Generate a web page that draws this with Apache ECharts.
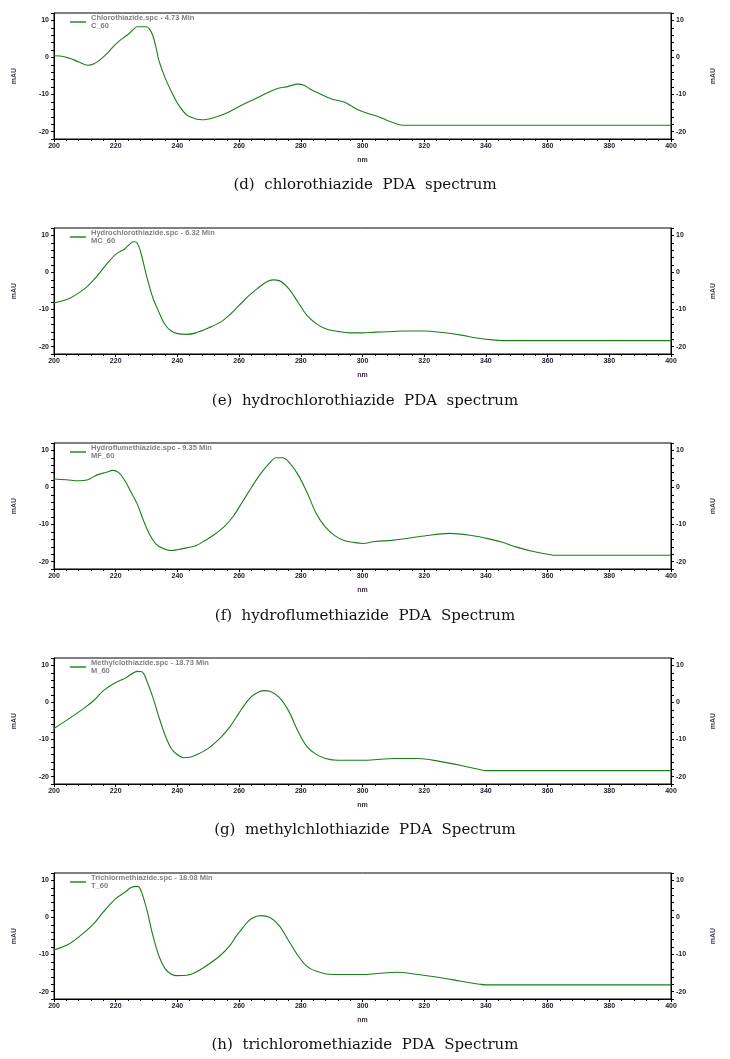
<!DOCTYPE html>
<html>
<head>
<meta charset="utf-8">
<script src="https://cdn.jsdelivr.net/npm/echarts@6/dist/echarts.min.js"></script>
<style>
html,body{margin:0;padding:0;background:#fff;}
#chart{width:730px;height:1059px;}
</style>
</head>
<body>
<div id="chart"></div>
<script>
// ---------- data (wavelength in nm, absorbance in mAU) ----------
const xTicks = [200, 220, 240, 260, 280, 300, 320, 340, 360, 380, 400];
const yTickLabels = [-20, -10, 0, 10];

const chlorothiazideNm  = [200,202,205,208,211,213,215,218,220,222,224,226,227,230,231,232,233,234,236,238,240,243,246,248,252,256,260,264,268,272,276,279,281,283,286,290,294,296,298,302,305,308,311,313,400];
const chlorothiazideMau = [0.45,0.4,-0.2,-1.2,-2.1,-1.7,-0.6,1.8,3.6,5.0,6.2,7.8,8.3,8.3,7.6,6.0,3.0,-0.8,-5.5,-9.1,-12.3,-15.5,-16.6,-16.8,-16.2,-15.0,-13.2,-11.6,-10.0,-8.5,-7.8,-7.2,-7.5,-8.5,-9.7,-11.2,-12.0,-12.9,-13.9,-15.2,-15.9,-17.0,-17.9,-18.3,-18.3];

const hydrochlorothiazideNm  = [200,205,208,211,214,217,220,223,225,226,227,228,230,232,234,236,238,240,243,246,250,254,257,260,263,266,269,271,273,276,279,282,285,288,292,296,300,304,308,313,320,326,332,337,342,346,400];
const hydrochlorothiazideMau = [-8.2,-7.0,-5.5,-3.6,-0.9,2.2,4.9,6.4,8.0,8.3,7.9,5.8,-0.9,-6.7,-10.7,-14.1,-15.8,-16.5,-16.7,-16.3,-15.0,-13.4,-11.4,-8.9,-6.4,-4.3,-2.5,-2.0,-2.2,-4.3,-7.9,-11.6,-13.8,-15.2,-15.9,-16.3,-16.3,-16.1,-16.0,-15.8,-15.8,-16.2,-16.9,-17.7,-18.2,-18.4,-18.4];

const hydroflumethiazideNm  = [200,204,208,211,214,217,219,221,223,225,227,229,231,233,235,238,240,243,246,249,252,255,258,261,264,267,270,272,274,276,279,282,285,288,291,294,297,300,304,310,320,328,335,340,345,350,355,360,363,400];
const hydroflumethiazideMau = [2.3,2.1,1.8,2.1,3.4,4.1,4.6,4.0,1.8,-1.3,-4.5,-8.9,-12.7,-15.2,-16.3,-17.0,-16.8,-16.3,-15.7,-14.3,-12.7,-10.7,-7.9,-4.0,0,3.75,6.7,8.0,8.0,7.0,3.6,-1.3,-7.0,-10.7,-13.0,-14.3,-14.8,-15.1,-14.6,-14.2,-13.1,-12.4,-12.9,-13.7,-14.7,-16.1,-17.2,-18.0,-18.3,-18.3];

const methylclothiazideNm  = [200,205,210,213,216,220,223,225,227,228.5,230,232,234,236,238,240,242,244,246,250,254,257,260,263,265,268,270,273,276,279,282,285,288,292,300,305,310,318,325,332,338,340,400];
const methylclothiazideMau = [-7.0,-4.3,-1.4,0.6,3.2,5.4,6.5,7.6,8.4,8.3,6.0,1.5,-3.9,-8.8,-12.4,-14.1,-14.9,-14.8,-14.2,-12.4,-9.5,-6.6,-2.8,0.7,2.2,3.2,3.0,1.4,-2.2,-7.6,-11.9,-14.0,-15.1,-15.6,-15.6,-15.4,-15.1,-15.1,-15.9,-17.0,-18.1,-18.4,-18.4];

const trichlormethiazideNm  = [200,205,210,213,216,220,223,225,227,228,230,232,234,236,238,240,243,246,250,254,257,259,261,263,265,267,270,273,276,279,282,285,290,300,305,311,318,325,332,338,340,400];
const trichlormethiazideMau = [-8.8,-7.1,-3.9,-1.6,1.5,5.1,6.8,8.1,8.4,7.7,2.4,-4.7,-10.4,-13.8,-15.3,-15.7,-15.6,-14.8,-12.7,-10.2,-7.6,-5.1,-3.0,-1.0,0.1,0.5,0,-2.2,-6.2,-10.2,-13.2,-14.5,-15.4,-15.4,-15.1,-14.8,-15.4,-16.2,-17.2,-18.0,-18.2,-18.2];

const legendTitles = [
  "Chlorothiazide.spc - 4.73 Min",
  "Hydrochlorothiazide.spc - 6.32 Min",
  "Hydroflumethiazide.spc - 9.35 Min",
  "Methylclothiazide.spc - 18.73 Min",
  "Trichlormethiazide.spc - 18.08 Min"
];
const sampleNames = ["C_60", "MC_60", "MF_60", "M_60", "T_60"];
const captions = [
  "(d)  chlorothiazide  PDA  spectrum",
  "(e)  hydrochlorothiazide  PDA  spectrum",
  "(f)  hydroflumethiazide  PDA  Spectrum",
  "(g)  methylchlothiazide  PDA  Spectrum",
  "(h)  trichloromethiazide  PDA  Spectrum"
];
const xNames = [chlorothiazideNm, hydrochlorothiazideNm, hydroflumethiazideNm, methylclothiazideNm, trichlormethiazideNm];
const yVals  = [chlorothiazideMau, hydrochlorothiazideMau, hydroflumethiazideMau, methylclothiazideMau, trichlormethiazideMau];

// ---------- layout ----------
const PANEL_TOP = 13, PANEL_STEP = 215, PANEL_H = 126;
const CAPTION_Y = [187, 403, 618, 832, 1047];
const LINE_COLOR = '#1c7d1c';
const LABEL_FONT = {fontFamily: 'Liberation Sans, Arial, sans-serif', fontSize: 7, fontWeight: 'bold', color: '#1a1a28'};

const grids = [], xAxes = [], yAxes = [], series = [], legends = [], graphics = [];
for (let i = 0; i < 5; i++) {
  const top = PANEL_TOP + PANEL_STEP * i;
  grids.push({left: 54, right: 59, top: top, height: PANEL_H, show: true, borderColor: '#000', borderWidth: 1, backgroundColor: 'transparent', containLabel: false});
  xAxes.push({
    type: 'value', gridIndex: i, min: 200, max: 400, interval: 20,
    name: 'nm', nameLocation: 'middle', nameGap: 18,
    nameTextStyle: {fontFamily: 'Liberation Sans, Arial, sans-serif', fontSize: 7, fontWeight: 'bold', color: '#3a2a3a'},
    axisLine: {show: true, onZero: false, lineStyle: {color: '#000', width: 1}},
    axisTick: {show: true, length: 3, inside: false, lineStyle: {color: '#000'}},
    minorTick: {show: true, splitNumber: 5, length: 2, lineStyle: {color: '#000'}},
    axisLabel: Object.assign({margin: 4}, LABEL_FONT),
    splitLine: {show: false}
  });
  for (const side of ['left', 'right']) {
    yAxes.push({
      type: 'value', gridIndex: i, position: side, min: -22, max: 12, interval: 2,
      name: 'mAU', nameLocation: 'middle', nameRotate: 90, nameGap: side === 'left' ? 36 : 39,
      nameTextStyle: {fontFamily: 'Liberation Sans, Arial, sans-serif', fontSize: 7, fontWeight: 'bold', color: '#3a3a4a'},
      axisLine: {show: true, onZero: false, lineStyle: {color: '#000', width: 1}},
      axisTick: {show: true, length: 3, lineStyle: {color: '#000'}},
      axisLabel: Object.assign({margin: 5, formatter: v => (yTickLabels.indexOf(v) >= 0 ? String(v) : '')}, LABEL_FONT),
      splitLine: {show: false}
    });
  }
  const data = xNames[i].map((x, k) => [x, yVals[i][k]]);
  series.push({
    name: legendTitles[i], type: 'line', xAxisIndex: i, yAxisIndex: 2 * i,
    data: data, symbol: 'none', smooth: 0.35, silent: true,
    lineStyle: {color: LINE_COLOR, width: 1.1}, itemStyle: {color: LINE_COLOR}
  });
  legends.push({
    data: [{name: legendTitles[i], icon: 'rect'}], left: 70, top: top + 1, padding: 0,
    itemWidth: 16, itemHeight: 1.4, itemGap: 0, selectedMode: false,
    formatter: name => name + '\n' + sampleNames[i],
    textStyle: {fontFamily: 'Liberation Sans, Arial, sans-serif', fontSize: 7.5, fontWeight: 'bold', color: '#808080', lineHeight: 8}
  });
  graphics.push({
    type: 'text', left: 'center', top: CAPTION_Y[i] - 9,
    style: {text: captions[i], font: '15px "DejaVu Serif", serif', fill: '#111'}
  });
}

const chart = echarts.init(document.getElementById('chart'), null, {renderer: 'canvas'});
chart.setOption({
  animation: false,
  backgroundColor: '#fff',
  grid: grids, xAxis: xAxes, yAxis: yAxes, series: series, legend: legends, graphic: graphics
});
</script>
</body>
</html>
